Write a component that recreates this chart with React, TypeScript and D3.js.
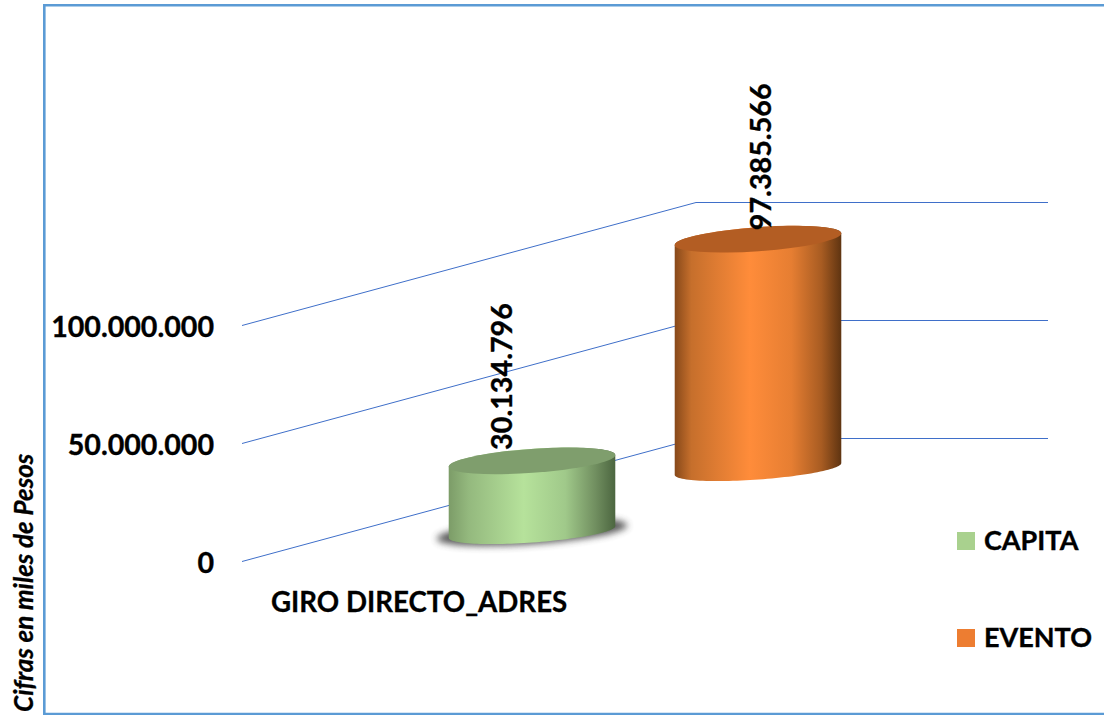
import React from "react";
import * as d3 from "d3";

const axisTicks = [0, 50000000, 100000000];
const seriesNames = ["CAPITA", "EVENTO"];
const seriesValues = [30134796, 97385566];
const category = "GIRO DIRECTO_ADRES";
const axisTitle = "Cifras en miles de Pesos";

const gradients = [
  [["0%", "#7c9c68"], ["12%", "#94b97e"], ["45%", "#b6e29b"], ["70%", "#a0c98a"], ["88%", "#718f60"], ["100%", "#4c6640"]],
  [["0%", "#87491a"], ["10%", "#c66f2c"], ["45%", "#ff8c3a"], ["70%", "#e67e32"], ["88%", "#a85c22"], ["100%", "#5f3411"]],
];
const capColors = ["#7f9e6d", "#b35d23"];
const swatchColors = ["#a9d18e", "#ed7d31"];

const locale = d3.formatLocale({ decimal: ",", thousands: ".", grouping: [3], currency: ["", ""] });
const fmt = locale.format(",d");

const FONT = "Lato, 'Open Sans', sans-serif";
const RX = 83.5;
const RY = 12;
const RY_BASE = 10.5;
const TILT = -4.1;

export default function App() {
  const y = d3.scaleLinear().domain([0, 50000000]).range([0, 118]);
  const cx = d3.scalePoint<string>().domain(seriesNames).range([532, 758]);
  const baseY = d3.scalePoint<string>().domain(seriesNames).range([532, 469]);
  const legendY = d3.scalePoint<string>().domain(seriesNames).range([532, 629]);
  const depth = { dx: 454, dy: 123, x0: 242, y0: 561.5, right: 1048 };

  const rad = (TILT * Math.PI) / 180;
  const ellipsePoint = (c: number, b: number, t: number, ry: number): [number, number] => {
    const px = RX * Math.cos(t);
    const py = ry * Math.sin(t);
    return [c + px * Math.cos(rad) - py * Math.sin(rad), b + px * Math.sin(rad) + py * Math.cos(rad)];
  };
  const body = (c: number, b: number, h: number) => {
    const angles = d3.range(0, 61).map((k) => (k / 60) * Math.PI);
    const lower = angles.map((t) => ellipsePoint(c, b, t, RY_BASE));
    const upper = angles.map((t) => ellipsePoint(c, b - h, Math.PI + t, RY));
    return d3.line()([...lower, ...upper]) + "Z";
  };

  return (
    <svg width={1104} height={715} style={{ position: "absolute", left: 0, top: 0, display: "block" }}>
      <defs>
        {gradients.map((g, i) => (
          <linearGradient key={i} id={`cyl${i}`} x1="0" x2="1" y1="0" y2="0">
            {g.map(([o, c]) => <stop key={o} offset={o} stopColor={c} />)}
          </linearGradient>
        ))}
        <filter id="blur" x="-20%" y="-50%" width="140%" height="200%">
          <feGaussianBlur stdDeviation="3.5" />
        </filter>
      </defs>
      <rect width={1104} height={715} fill="#fff" />
      <path d="M1104,5.3H44.3V714H1104" fill="none" stroke="#5b9bd5" strokeWidth={2.6} />

      {axisTicks.map((v) => {
        const yy = depth.y0 - y(v);
        return (
          <path key={v} d={`M${depth.x0},${yy}L${depth.x0 + depth.dx},${yy - depth.dy}H${depth.right}`} fill="none" stroke="#3f6fc9" strokeWidth={1} />
        );
      })}

      {axisTicks.map((t) => (
        <text key={t} x={214} y={depth.y0 - y(t) + 11} textAnchor="end" fontFamily={FONT} fontWeight={700} fontSize={28.6} stroke="#000" strokeWidth={0.35} fill="#000">{fmt(t)}</text>
      ))}

      {seriesNames.map((s, i) => {
        const c = cx(s)!;
        const b = baseY(s)!;
        const h = y(seriesValues[i]);
        return (
          <g key={s}>
            {i === 0 && (
              <ellipse cx={c} cy={b} rx={RX + 12} ry={RY} transform={`rotate(${TILT} ${c} ${b})`} fill="#444" opacity={0.9} filter="url(#blur)" />
            )}
            <path d={body(c, b, h)} fill={`url(#cyl${i})`} />
            <ellipse cx={c} cy={b - h} rx={RX} ry={RY} transform={`rotate(${TILT} ${c} ${b - h})`} fill={capColors[i]} />
            <text transform={`translate(${c - 20 + i * 33},${b - h - 11 + i * 2}) rotate(-90)`} fontFamily={FONT} fontWeight={700} fontSize={28.7} stroke="#000" strokeWidth={0.35} fill="#000">{fmt(seriesValues[i])}</text>
          </g>
        );
      })}

      <text x={271} y={612} fontFamily={FONT} fontWeight={700} fontSize={27.7} stroke="#000" strokeWidth={0.3} fill="#000">{category}</text>

      {seriesNames.map((s, i) => (
        <g key={s}>
          <rect x={957} y={legendY(s)!} width={18} height={18} fill={swatchColors[i]} />
          <text x={984} y={legendY(s)! + 18} fontFamily={FONT} fontWeight={700} fontSize={27} stroke="#000" strokeWidth={0.35} fill="#000">{s}</text>
        </g>
      ))}

      <text transform="translate(33,712) rotate(-90)" fontFamily={FONT} fontWeight={700} fontStyle="italic" fontSize={26} stroke="#000" strokeWidth={0.3} fill="#000">{axisTitle}</text>
    </svg>
  );
}
